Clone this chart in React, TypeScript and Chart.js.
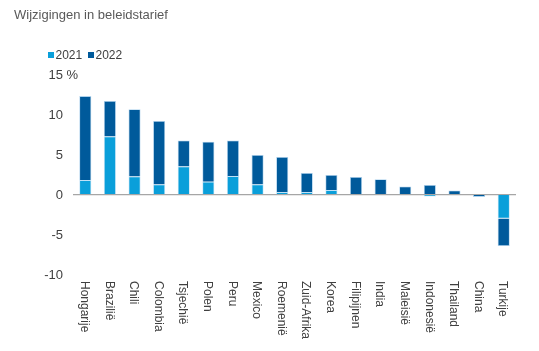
import React, { useEffect, useRef } from 'react';
import { Chart, registerables } from 'chart.js';

Chart.register(...registerables);

const title = 'Wijzigingen in beleidstarief';
const unitLabel = '%';
const categories = ['Hongarije', 'Brazilië', 'Chili', 'Colombia', 'Tsjechië', 'Polen', 'Peru', 'Mexico', 'Roemenië', 'Zuid-Afrika', 'Korea', 'Filipijnen', 'India', 'Maleisië', 'Indonesië', 'Thailand', 'China', 'Turkije'];
const seriesNames = ['2021', '2022'];
const values2021 = [1.8, 7.25, 2.25, 1.25, 3.5, 1.6, 2.3, 1.25, 0.3, 0.3, 0.55, 0, 0, 0, -0.25, 0, 0, -3.0];
const values2022 = [10.5, 4.45, 8.4, 7.95, 3.25, 5.0, 4.45, 3.7, 4.4, 2.4, 1.9, 2.2, 1.9, 1.0, 1.2, 0.5, -0.3, -3.45];
const yMin = -10;
const yMax = 15;
const yStep = 5;

const COLOR_2021 = '#0A9FDA';
const COLOR_2022 = '#005A9B';
const TEXT = '#404040';
const FONT = '"Liberation Sans", Arial, sans-serif';

const decorPlugin = {
  id: 'decor',
  afterDraw(chart: any) {
    const ctx = chart.ctx;
    const x = chart.scales.x;
    const y = chart.scales.y;
    ctx.save();
    // title
    ctx.fillStyle = '#595959';
    ctx.font = `13px ${FONT}`;
    ctx.textAlign = 'left';
    ctx.textBaseline = 'alphabetic';
    ctx.fillText(title, 14, 19);
    // legend
    ctx.font = `12px ${FONT}`;
    const legendItems = [
      { name: seriesNames[0], color: COLOR_2021, x: 48 },
      { name: seriesNames[1], color: COLOR_2022, x: 88 },
    ];
    legendItems.forEach((it) => {
      ctx.fillStyle = it.color;
      ctx.fillRect(it.x, 52, 6, 6);
      ctx.fillStyle = TEXT;
      ctx.fillText(it.name, it.x + 7.5, 58.5);
    });
    // unit after top tick
    ctx.font = `13px ${FONT}`;
    ctx.fillStyle = TEXT;
    ctx.textBaseline = 'middle';
    const topY = y.getPixelForValue(yMax);
    ctx.fillText(' ' + unitLabel, y.right - 10, topY + 1);
    // x labels rotated clockwise
    ctx.font = `12px ${FONT}`;
    categories.forEach((c, i) => {
      const px = x.getPixelForValue(i);
      ctx.save();
      ctx.translate(px - 1, y.bottom + 6.5);
      ctx.rotate(Math.PI / 2);
      ctx.textAlign = 'left';
      ctx.textBaseline = 'middle';
      ctx.fillText(c, 0, 0);
      ctx.restore();
    });
    ctx.restore();
  },
};

export default function App() {
  const ref = useRef<HTMLCanvasElement>(null);
  useEffect(() => {
    document.body.style.margin = '0';
    const chart = new Chart(ref.current as HTMLCanvasElement, {
      type: 'bar',
      data: {
        labels: categories,
        datasets: [
          {
            label: seriesNames[0],
            data: values2021,
            backgroundColor: COLOR_2021,
            borderColor: 'rgba(150,205,240,0.6)',
            borderWidth: 0.8,
          },
          {
            label: seriesNames[1],
            data: values2022,
            backgroundColor: COLOR_2022,
            borderColor: 'rgba(120,180,225,0.6)',
            borderWidth: 0.8,
          },
        ],
      },
      options: {
        responsive: false,
        animation: false,
        layout: { padding: { top: 74.5, right: 23, bottom: 76.5, left: 0 } },
        datasets: { bar: { barPercentage: 0.49, categoryPercentage: 1 } },
        plugins: { legend: { display: false }, tooltip: { enabled: false }, title: { display: false } },
        scales: {
          x: { display: false, stacked: true },
          y: {
            stacked: true,
            min: yMin,
            max: yMax,
            afterFit: (s: any) => { s.width = 73; },
            ticks: {
              stepSize: yStep,
              padding: 10,
              labelOffset: 1,
              color: TEXT,
              font: { family: FONT, size: 13 },
            },
            border: { display: false },
            grid: {
              drawTicks: false,
              color: (c: any) => (c.tick && c.tick.value === 0 ? '#A6A6A6' : 'rgba(0,0,0,0)'),
              lineWidth: 1.2,
            },
          },
        },
      },
      plugins: [decorPlugin],
    });
    return () => chart.destroy();
  }, []);
  return (
    <div style={{ position: 'absolute', left: 0, top: 0, width: 539, height: 351 }}>
      <canvas ref={ref} width={539} height={351} style={{ display: 'block' }} />
    </div>
  );
}
